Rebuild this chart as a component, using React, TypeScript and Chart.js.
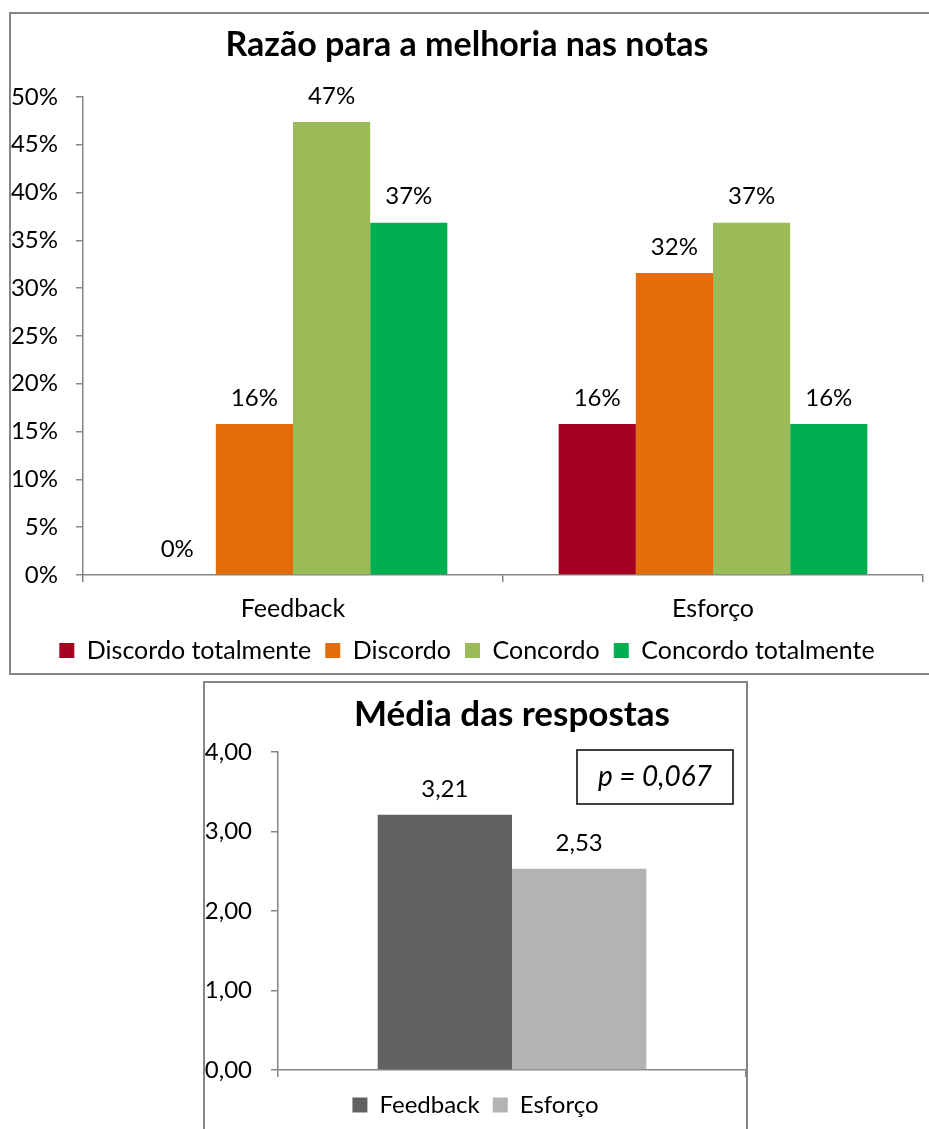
import React, { useEffect, useRef } from 'react';
import { Chart, registerables } from 'chart.js';

Chart.register(...registerables);

// ---------- Data: top chart ----------
const categories = ['Feedback', 'Esforço'];
const seriesNames = ['Discordo totalmente', 'Discordo', 'Concordo', 'Concordo totalmente'];
const discordoTotalmente = [0, 15.79];
const discordo = [15.79, 31.58];
const concordo = [47.37, 36.84];
const concordoTotalmente = [36.84, 15.79];
const seriesColors = ['#A50021', '#E46C0A', '#9BBB59', '#00B050'];
const pctMax = 50;
const pctStep = 5;
const topTitle = 'Razão para a melhoria nas notas';

// ---------- Data: bottom chart ----------
const meanSeries = ['Feedback', 'Esforço'];
const meanValues = [3.21, 2.53];
const meanColors = ['#616161', '#B3B3B3'];
const meanMax = 4;
const meanStep = 1;
const bottomTitle = 'Média das respostas';
const pValueText = 'p = 0,067';

const FONT = 'Lato, "Open Sans", sans-serif';
const AXIS = '#868686';

const dataLabelPlugin = {
  id: 'dataLabels',
  afterDatasetsDraw(chart: any, _args: any, opts: any) {
    const ctx = chart.ctx;
    ctx.save();
    ctx.font = `${opts.size || 24}px ${FONT}`;
    ctx.fillStyle = '#000';
    ctx.textAlign = 'center';
    ctx.textBaseline = 'middle';
    chart.data.datasets.forEach((ds: any, di: number) => {
      const meta = chart.getDatasetMeta(di);
      meta.data.forEach((el: any, i: number) => {
        const v = ds.data[i];
        ctx.fillText(opts.format(v), el.x, el.y - (opts.offset || 26));
      });
    });
    ctx.restore();
  },
};

const pBoxPlugin = {
  id: 'pBox',
  afterDraw(chart: any, _args: any, opts: any) {
    if (!opts || !opts.text) return;
    const { ctx, chartArea } = chart;
    const w = 156;
    const h = 54;
    const x = chartArea.right - 13 - w;
    const y = chartArea.top - 2;
    ctx.save();
    ctx.lineWidth = 1.5;
    ctx.strokeStyle = '#000';
    ctx.strokeRect(x, y, w, h);
    ctx.font = `italic 28px ${FONT}`;
    ctx.fillStyle = '#000';
    ctx.textAlign = 'center';
    ctx.textBaseline = 'middle';
    ctx.fillText(opts.text, x + w / 2, y + h / 2);
    ctx.restore();
  },
};

function TopChart() {
  const ref = useRef<HTMLCanvasElement>(null);
  useEffect(() => {
    const seriesData = [discordoTotalmente, discordo, concordo, concordoTotalmente];
    const chart = new Chart(ref.current as HTMLCanvasElement, {
      type: 'bar',
      data: {
        labels: categories,
        datasets: seriesNames.map((name, i) => ({
          label: name,
          data: seriesData[i],
          backgroundColor: seriesColors[i],
          borderWidth: 0,
          categoryPercentage: 0.735,
          barPercentage: 1,
        })),
      },
      plugins: [dataLabelPlugin],
      options: {
        responsive: false,
        animation: false,
        layout: { padding: { left: 0, right: 18, top: 0, bottom: 0 } },
        scales: {
          x: {
            grid: { drawOnChartArea: false, drawTicks: true, tickLength: 7, color: AXIS, lineWidth: 1.5 },
            border: { display: true, color: AXIS, width: 1.5 },
            ticks: { font: { family: FONT, size: 25 }, color: '#000', padding: 12 },
            afterFit: (s: any) => { s.height = 49; },
          },
          y: {
            min: 0,
            max: pctMax,
            grid: { drawOnChartArea: false, drawTicks: true, tickLength: 7, color: AXIS, lineWidth: 1.5 },
            border: { display: true, color: AXIS, width: 1.5 },
            ticks: {
              stepSize: pctStep,
              font: { family: FONT, size: 24 },
              color: '#000',
              padding: 18,
              callback: (v: any) => `${v}%`,
            },
            afterFit: (s: any) => { s.width = 72; },
          },
        },
        plugins: {
          title: {
            display: true,
            text: topTitle,
            color: '#000',
            font: { family: FONT, size: 34, weight: 'bold' },
            padding: { top: 11, bottom: 31 },
          },
          legend: {
            position: 'bottom',
            labels: {
              boxWidth: 15,
              boxHeight: 15,
              padding: 14,
              color: '#000',
              font: { family: FONT, size: 25 },
            },
          },
          tooltip: { enabled: false },
          dataLabels: { format: (v: number) => `${Math.round(v)}%`, offset: 26, size: 24 },
        } as any,
      },
    });
    return () => chart.destroy();
  }, []);
  return <canvas ref={ref} width={930} height={659} style={{ display: 'block' }} />;
}

function BottomChart() {
  const ref = useRef<HTMLCanvasElement>(null);
  useEffect(() => {
    const chart = new Chart(ref.current as HTMLCanvasElement, {
      type: 'bar',
      data: {
        labels: [''],
        datasets: meanSeries.map((name, i) => ({
          label: name,
          data: [meanValues[i]],
          backgroundColor: meanColors[i],
          borderWidth: 0,
          categoryPercentage: 0.574,
          barPercentage: 1,
        })),
      },
      plugins: [dataLabelPlugin, pBoxPlugin],
      options: {
        responsive: false,
        animation: false,
        layout: { padding: { left: 0, right: 0, top: 0, bottom: 6 } },
        scales: {
          x: {
            grid: { drawOnChartArea: false, drawTicks: true, tickLength: 7, color: AXIS, lineWidth: 1.5 },
            border: { display: true, color: AXIS, width: 1.5 },
            ticks: { display: false },
            afterFit: (s: any) => { s.height = 10; },
          },
          y: {
            min: 0,
            max: meanMax,
            grid: { drawOnChartArea: false, drawTicks: true, tickLength: 7, color: AXIS, lineWidth: 1.5 },
            border: { display: true, color: AXIS, width: 1.5 },
            ticks: {
              stepSize: meanStep,
              font: { family: FONT, size: 24 },
              color: '#000',
              padding: 19,
              callback: (v: any) => Number(v).toFixed(2).replace('.', ','),
            },
            afterFit: (s: any) => { s.width = 73; },
          },
        },
        plugins: {
          title: {
            display: true,
            text: bottomTitle,
            fullSize: false,
            color: '#000',
            font: { family: FONT, size: 35, weight: 'bold' },
            padding: { top: 11, bottom: 16 },
          },
          legend: {
            position: 'bottom',
            labels: {
              boxWidth: 15,
              boxHeight: 15,
              padding: 13,
              color: '#000',
              font: { family: FONT, size: 24 },
            },
          },
          tooltip: { enabled: false },
          dataLabels: { format: (v: number) => v.toFixed(2).replace('.', ','), offset: 26, size: 24 },
          pBox: { text: pValueText },
        } as any,
      },
    });
    return () => chart.destroy();
  }, []);
  return <canvas ref={ref} width={541} height={450} style={{ display: 'block' }} />;
}

export default function App() {
  return (
    <div style={{ position: 'absolute', left: 0, top: 0, width: 929, height: 1129, overflow: 'hidden', background: '#fff' }}>
      <div
        style={{
          position: 'absolute', left: 9, top: 12, width: 934, height: 663,
          border: `2px solid ${AXIS}`, boxSizing: 'border-box', background: '#fff',
        }}
      >
        <TopChart />
      </div>
      <div
        style={{
          position: 'absolute', left: 203, top: 681, width: 545, height: 460,
          border: `2px solid ${AXIS}`, boxSizing: 'border-box', background: '#fff',
        }}
      >
        <BottomChart />
      </div>
    </div>
  );
}
